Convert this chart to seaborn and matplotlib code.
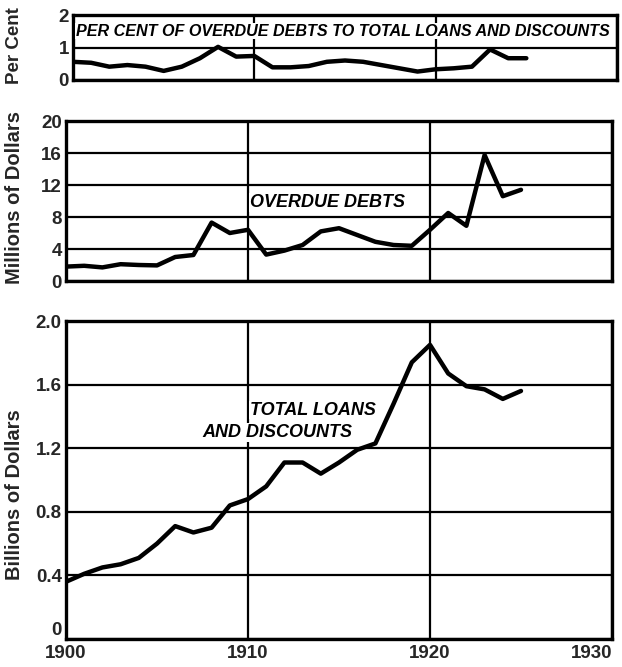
import matplotlib
matplotlib.use('Agg')
import matplotlib.pyplot as plt
from matplotlib import font_manager
import seaborn as sns
import pandas as pd

# dane (lata 1900-1925)
years = list(range(1900, 1926))
percent_overdue = [0.56, 0.53, 0.41, 0.46, 0.41, 0.28, 0.41, 0.67, 1.02, 0.72, 0.74,
                   0.39, 0.39, 0.43, 0.56, 0.60, 0.56, 0.46, 0.36, 0.26, 0.33, 0.36,
                   0.41, 0.94, 0.67, 0.67]
overdue_debts = [1.8, 1.9, 1.7, 2.1, 2.0, 1.95, 3.0, 3.25, 7.3, 6.0, 6.4,
                 3.3, 3.8, 4.5, 6.2, 6.6, 5.75, 4.9, 4.5, 4.4, 6.4, 8.5,
                 6.9, 15.75, 10.6, 11.4]
total_loans = [0.36, 0.41, 0.45, 0.47, 0.51, 0.60, 0.71, 0.67, 0.70, 0.84, 0.88,
               0.96, 1.11, 1.11, 1.04, 1.11, 1.19, 1.23, 1.48, 1.74, 1.85, 1.67,
               1.59, 1.57, 1.51, 1.56]

x_ticks = [1900, 1910, 1920, 1930]
top_ticks = [0, 1, 2]
mid_ticks = [0, 4, 8, 12, 16, 20]
bot_ticks = [0, 0.4, 0.8, 1.2, 1.6, 2.0]
bot_labels = ['0', '0.4', '0.8', '1.2', '1.6', '2.0']

df = pd.DataFrame({'year': years, 'pct': percent_overdue,
                   'overdue': overdue_debts, 'loans': total_loans})

sns.set_style("white")
available = {f.name for f in font_manager.fontManager.ttflist}
fam = [f for f in ['Liberation Sans Narrow', 'Liberation Sans', 'DejaVu Sans'] if f in available]
plt.rcParams['font.family'] = fam
plt.rcParams['font.weight'] = 'bold'

fig = plt.figure(figsize=(6.22, 6.67), dpi=100)
ax_top = fig.add_axes([73 / 622, 587 / 667, 544 / 622, 65 / 667])
ax_mid = fig.add_axes([66 / 622, 386 / 667, 546 / 622, 160 / 667])
ax_bot = fig.add_axes([66 / 622, 28 / 667, 546 / 622, 318 / 667])


def style(ax, yticks, ylabels=None):
    ax.set_xlim(1900, 1930)
    ax.set_xticks(x_ticks)
    ax.set_ylim(yticks[0], yticks[-1])
    ax.set_yticks(yticks)
    if ylabels is not None:
        ax.set_yticklabels(ylabels)
    ax.grid(True, color='black', linewidth=1.6)
    ax.set_axisbelow(True)
    for s in ax.spines.values():
        s.set_color('black')
        s.set_linewidth(2.4)
    ax.tick_params(length=0, labelsize=13.5, pad=3)
    for lab in ax.get_yticklabels() + ax.get_xticklabels():
        lab.set_fontweight('bold')
    ax.set_xlabel('')
    ax.set_ylabel('')


for ax, col, ticks, labs in [(ax_top, 'pct', top_ticks, None),
                             (ax_mid, 'overdue', mid_ticks, None),
                             (ax_bot, 'loans', bot_ticks, bot_labels)]:
    sns.lineplot(data=df, x='year', y=col, ax=ax, color='black', linewidth=3.2)
    style(ax, ticks, labs)

ax_top.set_xticklabels([])
ax_mid.set_xticklabels([])
ax_bot.tick_params(axis='x', pad=4)
xl = ax_bot.get_xticklabels()
xl[-1].set_horizontalalignment('right')
xl[-1].set_x(1930.4)
ylab0 = ax_bot.get_yticklabels()[0]
ylab0.set_verticalalignment('bottom')

txt = dict(fontweight='bold', style='italic', color='black',
           bbox=dict(facecolor='white', edgecolor='none', pad=0.5))
ax_top.text(1900.15, 1.5, 'PER CENT OF OVERDUE DEBTS TO TOTAL LOANS AND DISCOUNTS',
            va='center', ha='left', fontsize=11.6, **txt)
ax_mid.text(1910.1, 9.8, 'OVERDUE DEBTS', va='center', ha='left', fontsize=13, **txt)
ax_bot.text(1910.1, 1.44, 'TOTAL LOANS', va='center', ha='left', fontsize=13, **txt)
ax_bot.text(1907.5, 1.30, 'AND DISCOUNTS', va='center', ha='left', fontsize=13, **txt)

fig.text(15 / 622, 1 - 46 / 667, 'Per Cent', rotation=90, ha='center', va='center',
         fontsize=13.5, fontweight='bold')
fig.text(15 / 622, 1 - 198 / 667, 'Millions of Dollars', rotation=90, ha='center',
         va='center', fontsize=14.5, fontweight='bold')
fig.text(15 / 622, 1 - 495 / 667, 'Billions of Dollars', rotation=90, ha='center',
         va='center', fontsize=14.5, fontweight='bold')

fig.savefig('out.png', dpi=100)
plt.close(fig)
